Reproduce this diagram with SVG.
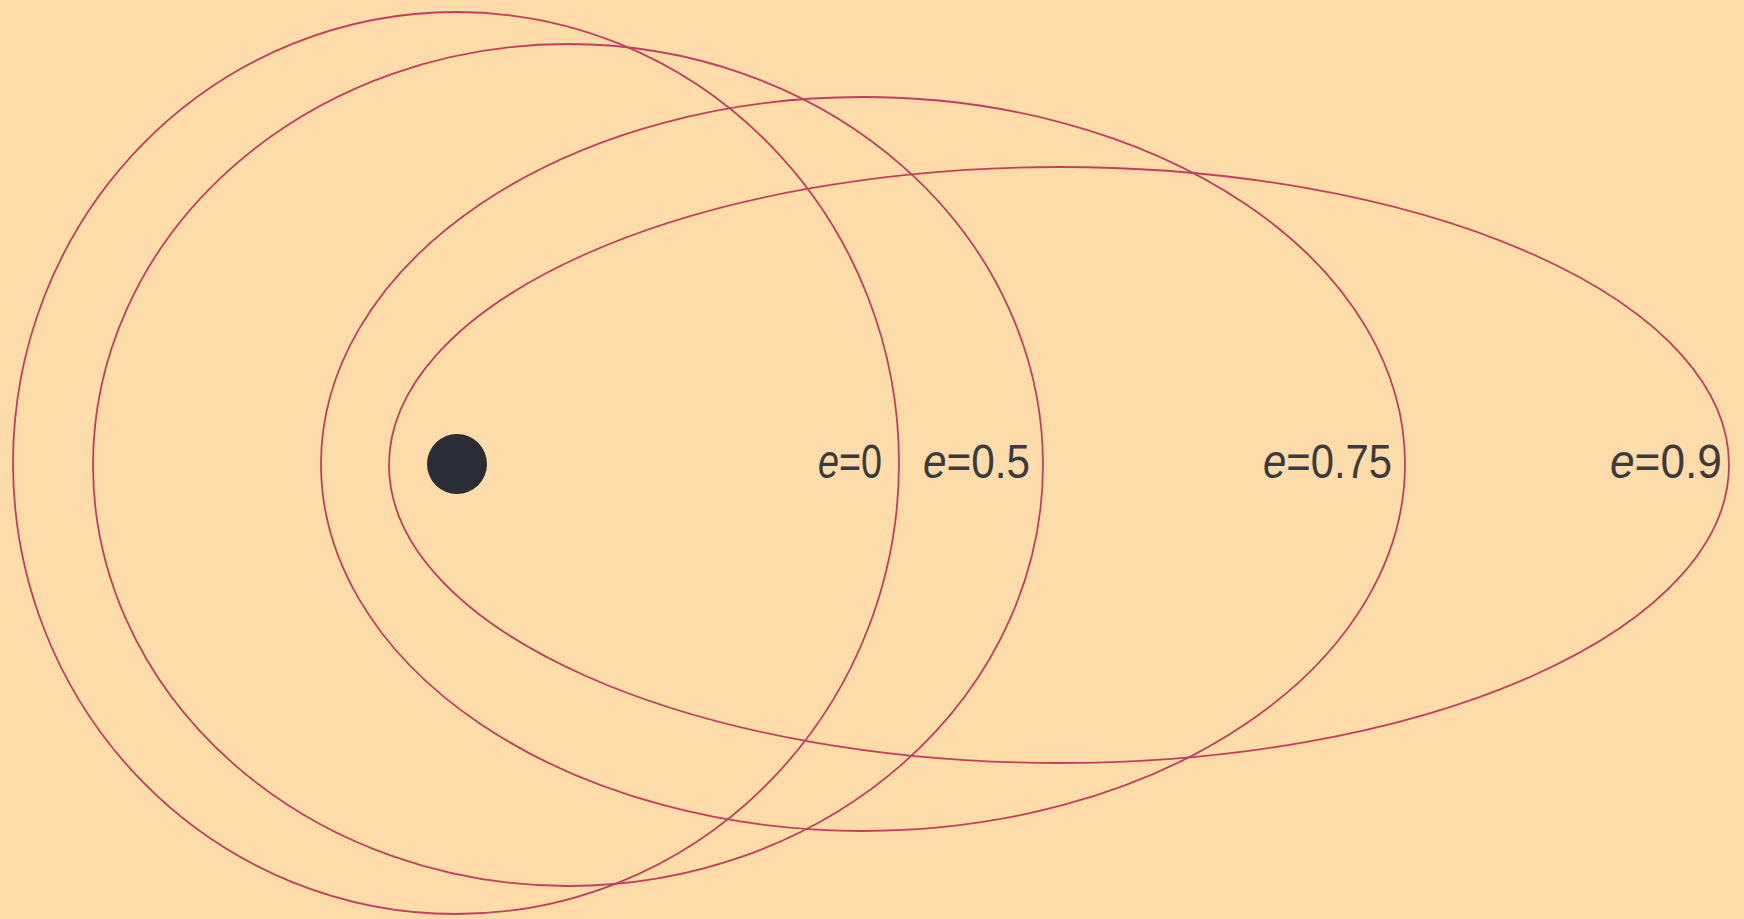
<svg xmlns="http://www.w3.org/2000/svg" width="1744" height="919" viewBox="0 0 1744 919">
<style>
.orbit{fill:none;stroke:#c23d62;stroke-width:1.8}
.lbl{font-family:"Liberation Sans",Arial,sans-serif;font-size:48px;fill:#3a3a40}
.it{font-style:italic}
</style>
<rect width="1744" height="919" fill="#fddca9"/>
<g id="orbit-e0"><ellipse class="orbit" cx="456" cy="463" rx="443" ry="451"/></g>
<g id="orbit-e05"><ellipse class="orbit" cx="568" cy="465" rx="475" ry="421"/></g>
<g id="orbit-e075"><ellipse class="orbit" cx="863" cy="464" rx="542" ry="367"/></g>
<g id="orbit-e09"><ellipse class="orbit" cx="1059" cy="465" rx="670" ry="298"/></g>
<g id="star"><circle cx="457" cy="464" r="30" fill="#2a2d33"/></g>
<g id="labels">
<text class="lbl" x="818" y="478" textLength="64" lengthAdjust="spacingAndGlyphs"><tspan class="it">e</tspan>=0</text>
<text class="lbl" x="923" y="478" textLength="107" lengthAdjust="spacingAndGlyphs"><tspan class="it">e</tspan>=0.5</text>
<text class="lbl" x="1263" y="478" textLength="129" lengthAdjust="spacingAndGlyphs"><tspan class="it">e</tspan>=0.75</text>
<text class="lbl" x="1610" y="478" textLength="112" lengthAdjust="spacingAndGlyphs"><tspan class="it">e</tspan>=0.9</text>
</g>
</svg>
